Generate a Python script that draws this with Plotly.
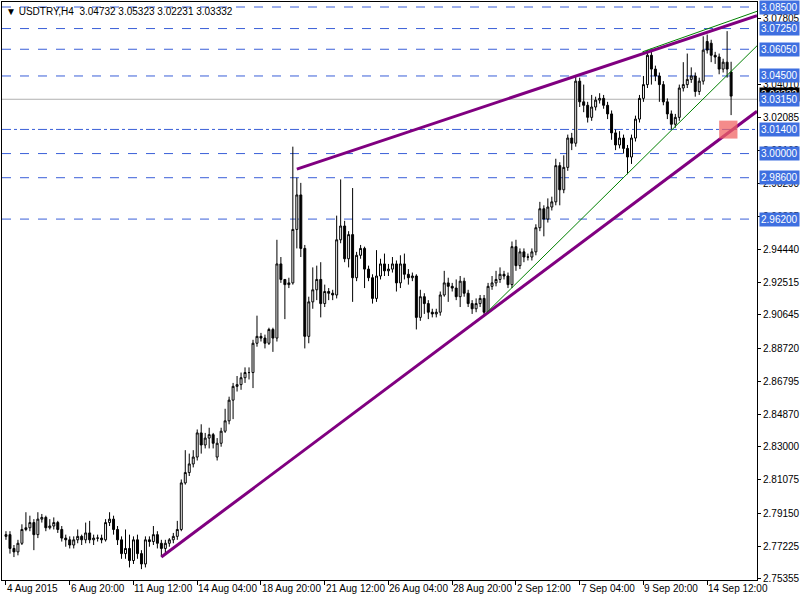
import plotly.graph_objects as go

closes = [
2.779,2.771,2.769,2.774,2.782,2.783,2.786,2.779,2.788,2.789,
2.783,2.784,2.786,2.782,2.777,2.776,2.773,2.776,2.778,2.776,
2.780,2.776,2.777,2.777,2.776,2.786,2.788,2.782,2.776,2.768,
2.771,2.764,2.776,2.768,2.762,2.776,2.775,2.779,2.774,2.771,
2.774,2.776,2.778,2.782,2.809,2.815,2.820,2.824,2.838,2.831,
2.835,2.837,2.832,2.832,2.839,2.845,2.857,2.865,2.866,2.870,
2.873,2.873,2.890,2.894,2.893,2.890,2.898,2.893,2.936,2.927,
2.924,2.925,2.956,2.976,2.945,2.894,2.914,2.921,2.927,2.913,
2.920,2.919,2.918,2.950,2.958,2.939,2.953,2.928,2.941,2.945,
2.933,2.928,2.916,2.929,2.936,2.932,2.933,2.936,2.925,2.936,
2.930,2.928,2.929,2.905,2.917,2.913,2.908,2.907,2.908,2.918,
2.925,2.923,2.922,2.917,2.926,2.919,2.913,2.910,2.913,2.916,
2.908,2.923,2.925,2.927,2.930,2.929,2.924,2.946,2.935,2.943,
2.940,2.940,2.943,2.957,2.968,2.962,2.969,2.972,2.993,2.979,
2.992,3.009,3.006,3.042,3.030,3.028,3.021,3.027,3.031,3.032,
3.028,3.023,3.012,3.005,3.009,3.003,2.998,3.009,3.020,3.032,
3.040,3.057,3.049,3.045,3.040,3.030,3.023,3.017,3.021,3.038,
3.040,3.043,3.045,3.036,3.042,3.060,3.060,3.057,3.056,3.049,
3.053,3.049,3.03332]

opens = [
2.778,2.779,2.771,2.769,2.774,2.782,2.783,2.786,2.779,2.788,
2.789,2.783,2.784,2.786,2.782,2.777,2.776,2.773,2.776,2.778,
2.776,2.780,2.776,2.777,2.777,2.776,2.786,2.788,2.782,2.776,
2.768,2.771,2.764,2.776,2.768,2.762,2.776,2.775,2.779,2.774,
2.771,2.774,2.776,2.778,2.782,2.809,2.815,2.820,2.824,2.838,
2.831,2.835,2.837,2.824,2.832,2.839,2.845,2.857,2.865,2.866,
2.870,2.873,2.873,2.890,2.894,2.893,2.890,2.898,2.893,2.936,
2.927,2.924,2.925,2.956,2.976,2.945,2.894,2.914,2.921,2.927,
2.913,2.920,2.919,2.918,2.950,2.958,2.939,2.953,2.928,2.941,
2.945,2.933,2.928,2.916,2.929,2.936,2.932,2.933,2.936,2.925,
2.936,2.930,2.928,2.929,2.905,2.917,2.913,2.908,2.907,2.908,
2.918,2.925,2.923,2.922,2.917,2.926,2.919,2.913,2.910,2.913,
2.916,2.908,2.923,2.925,2.927,2.930,2.929,2.924,2.946,2.935,
2.943,2.940,2.940,2.943,2.957,2.968,2.962,2.969,2.972,2.993,
2.979,2.992,3.009,3.006,3.042,3.030,3.028,3.021,3.027,3.031,
3.032,3.028,3.023,3.012,3.005,3.009,3.003,2.998,3.009,3.020,
3.032,3.040,3.057,3.049,3.045,3.040,3.030,3.023,3.017,3.021,
3.038,3.040,3.043,3.045,3.036,3.042,3.065,3.064,3.057,3.056,
3.049,3.053,3.04732]

highs = [
2.781,2.781,2.773,2.776,2.785,2.792,2.790,2.788,2.792,2.791,
2.790,2.788,2.789,2.787,2.784,2.779,2.778,2.778,2.782,2.779,
2.786,2.787,2.779,2.779,2.779,2.788,2.792,2.790,2.784,2.778,
2.782,2.779,2.778,2.779,2.770,2.778,2.778,2.784,2.781,2.776,
2.776,2.777,2.780,2.787,2.811,2.828,2.826,2.828,2.840,2.843,
2.838,2.841,2.838,2.835,2.841,2.852,2.859,2.867,2.871,2.873,
2.876,2.876,2.892,2.906,2.896,2.895,2.899,2.899,2.950,2.940,
2.927,2.928,3.004,2.986,2.983,2.947,2.917,2.934,2.935,2.937,
2.924,2.922,2.921,2.964,2.985,2.961,2.955,2.980,2.943,2.947,
2.946,2.935,2.930,2.944,2.939,2.942,2.936,2.940,2.938,2.941,
2.942,2.933,2.931,2.930,2.921,2.919,2.915,2.910,2.910,2.920,
2.932,2.928,2.925,2.927,2.929,2.928,2.921,2.915,2.916,2.918,
2.918,2.925,2.929,2.932,2.934,2.932,2.931,2.949,2.950,2.945,
2.945,2.942,2.945,2.959,2.972,2.970,2.974,2.975,2.997,2.995,
2.999,3.011,3.012,3.045,3.044,3.040,3.030,3.034,3.033,3.035,
3.034,3.030,3.025,3.014,3.013,3.011,3.005,3.011,3.022,3.034,
3.045,3.060,3.059,3.051,3.047,3.042,3.032,3.025,3.023,3.040,
3.053,3.058,3.050,3.047,3.044,3.068,3.069,3.066,3.059,3.058,
3.055,3.071,3.05323]

lows = [
2.776,2.768,2.766,2.767,2.773,2.781,2.781,2.770,2.777,2.786,
2.781,2.782,2.782,2.780,2.775,2.772,2.771,2.771,2.774,2.773,
2.774,2.774,2.773,2.775,2.774,2.775,2.784,2.779,2.773,2.765,
2.765,2.760,2.762,2.765,2.759,2.760,2.772,2.773,2.771,2.766,
2.768,2.772,2.774,2.776,2.781,2.808,2.813,2.818,2.822,2.826,
2.829,2.829,2.829,2.822,2.830,2.838,2.843,2.846,2.862,2.863,
2.867,2.869,2.864,2.888,2.891,2.887,2.889,2.885,2.891,2.925,
2.904,2.922,2.924,2.945,2.940,2.887,2.890,2.910,2.915,2.905,
2.911,2.915,2.915,2.916,2.948,2.937,2.934,2.914,2.926,2.939,
2.922,2.926,2.913,2.914,2.927,2.929,2.929,2.931,2.920,2.922,
2.927,2.924,2.926,2.898,2.903,2.907,2.904,2.905,2.905,2.906,
2.917,2.914,2.920,2.915,2.911,2.917,2.911,2.907,2.908,2.911,
2.906,2.907,2.921,2.923,2.925,2.927,2.922,2.922,2.932,2.933,
2.937,2.938,2.938,2.941,2.955,2.952,2.960,2.967,2.970,2.970,
2.977,2.990,3.002,3.004,3.027,3.024,3.018,3.019,3.025,3.029,
3.026,3.020,3.008,3.002,3.003,3.000,2.988,2.994,3.007,3.018,
3.030,3.038,3.040,3.042,3.030,3.028,3.020,3.014,3.015,3.019,
3.036,3.038,3.041,3.033,3.034,3.040,3.058,3.053,3.052,3.046,
3.047,3.044,3.02231]

tick_idx = [0, 16, 32, 48, 64, 80, 96, 112, 128, 144, 160, 176]
tick_text = ["4 Aug 2015", "6 Aug 20:00", "11 Aug 12:00", "14 Aug 04:00", "18 Aug 20:00",
             "21 Aug 12:00", "26 Aug 04:00", "28 Aug 20:00", "2 Sep 12:00", "7 Sep 04:00",
             "9 Sep 20:00", "14 Sep 12:00"]

price_ticks = [3.07805, 3.04010, 3.02085, 3.00160, 2.98290, 2.96365, 2.94440, 2.92515,
               2.90645, 2.88720, 2.86795, 2.84870, 2.83000, 2.81075, 2.79150, 2.77225, 2.75355]

levels = [3.08500, 3.07250, 3.06050, 3.04500, 3.01400, 3.00000, 2.98600, 2.96200]
level_dash = ["dash", "dash", "dash", "dash", "dashdot", "dash", "dash", "dash"]
grey_level = 3.03150
current_price = 3.03332

# trendlines: (x0, y0, x1, y1) in candle index / price
purple_lines = [(39, 2.766, 188.5, 3.0245), (73, 2.991, 188.5, 3.0800)]
green_lines = [(120.75, 2.908, 188.5, 3.0625), (159.75, 3.059, 188.5, 3.0825)]
red_box = (179.0, 3.0087, 183.6, 3.0191)

FONT = "Liberation Sans"
x = list(range(len(closes)))
fig = go.Figure(go.Candlestick(
    x=x, open=opens, high=highs, low=lows, close=closes,
    increasing=dict(line=dict(color="black", width=1), fillcolor="white"),
    decreasing=dict(line=dict(color="black", width=1), fillcolor="black"),
    whiskerwidth=0, showlegend=False, hoverinfo="skip"))

shapes = []
for lv, ds in zip(levels, level_dash):
    shapes.append(dict(type="line", xref="paper", x0=0, x1=1, yref="y", y0=lv, y1=lv,
                       line=dict(color="#3a5fd8", width=1, dash=ds), layer="below"))
shapes.append(dict(type="line", xref="paper", x0=0, x1=1, yref="y", y0=grey_level, y1=grey_level,
                   line=dict(color="#b0b0b0", width=1), layer="below"))
for (x0, y0, x1, y1) in purple_lines:
    shapes.append(dict(type="line", x0=x0, y0=y0, x1=x1, y1=y1, line=dict(color="#800080", width=3)))
for (x0, y0, x1, y1) in green_lines:
    shapes.append(dict(type="line", x0=x0, y0=y0, x1=x1, y1=y1, line=dict(color="#008000", width=1)))
shapes.append(dict(type="rect", x0=red_box[0], x1=red_box[2], y0=red_box[1], y1=red_box[3],
                   fillcolor="rgba(240,100,100,0.75)", line=dict(width=0)))

ann = []
for t, tx in zip(tick_idx, tick_text):
    ann.append(dict(x=t, y=0, xref="x", yref="paper", yanchor="top", xanchor="left", xshift=-1, yshift=-1,
                    text=tx, showarrow=False, font=dict(family=FONT, size=10, color="black")))
ann.append(dict(xref="paper", x=1, y=current_price, yref="y", xanchor="left", xshift=2, yshift=2,
                text="3.03332", showarrow=False, bgcolor="black",
                font=dict(family=FONT, size=10, color="white"), borderpad=1))
for lv in levels + [grey_level]:
    ann.append(dict(xref="paper", x=1, y=lv, yref="y", xanchor="left", xshift=2, text=f"{lv:.5f}",
                    showarrow=False, bgcolor="#3e6fe0", font=dict(family=FONT, size=10, color="white"),
                    borderpad=1))
ann.append(dict(xref="paper", yref="paper", x=0, y=1, xanchor="left", yanchor="top", xshift=2, yshift=-2,
                text="▼ USDTRY,H4  3.04732 3.05323 3.02231 3.03332", showarrow=False,
                font=dict(family=FONT, size=10, color="black")))

fig.update_layout(
    width=800, height=600, margin=dict(l=2, r=43, t=2, b=20, autoexpand=False),
    paper_bgcolor="white", plot_bgcolor="white",
    font=dict(family=FONT, size=10, color="black"),
    shapes=shapes, annotations=ann,
    xaxis=dict(range=[-1, 188.5], rangeslider=dict(visible=False), showgrid=False, zeroline=False,
               tickvals=tick_idx, showticklabels=False, ticks="outside", ticklen=4, tickcolor="black",
               showline=True, linecolor="black", mirror=True, automargin=False),
    yaxis=dict(range=[2.7527, 3.0879], side="right", showgrid=False, zeroline=False,
               tickvals=price_ticks, ticktext=[f"{p:.5f}" for p in price_ticks],
               ticks="outside", ticklen=3, tickcolor="black", automargin=False,
               showline=True, linecolor="black", mirror=True),
)
fig.write_html("out.html", config={"displayModeBar": False},
               post_script="document.body.style.margin='0';document.body.style.overflow='hidden';")
